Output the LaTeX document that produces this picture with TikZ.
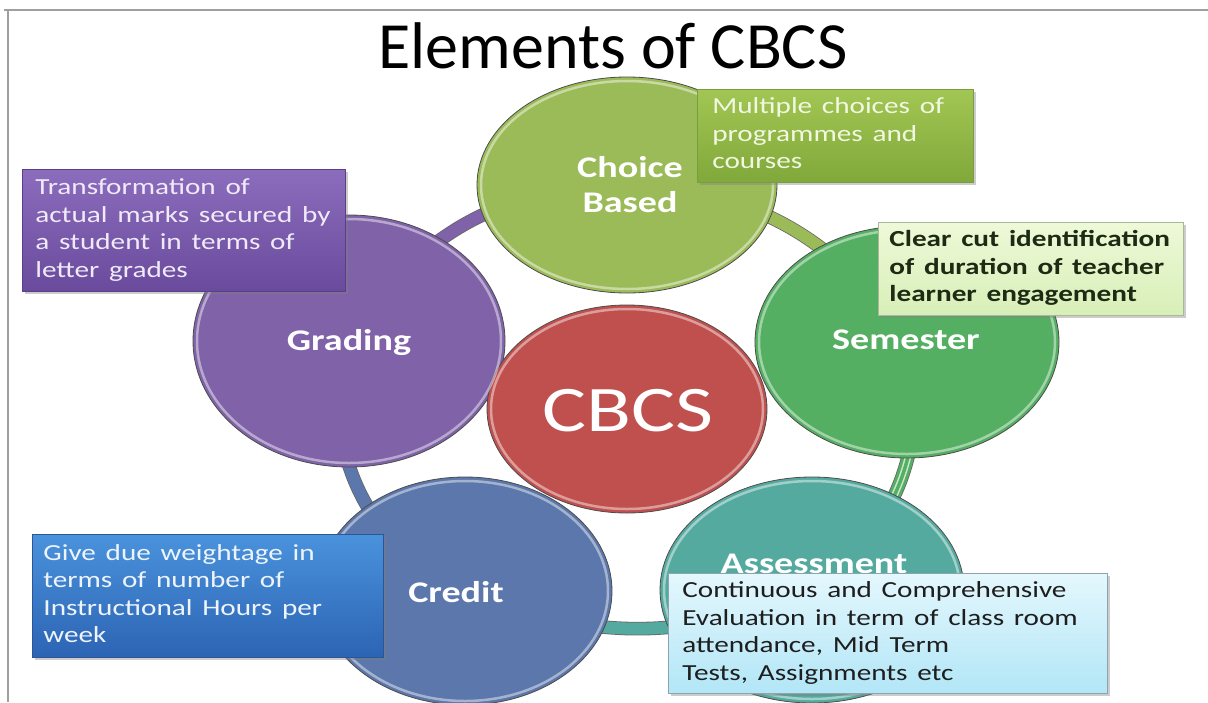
\documentclass[tikz,border=0pt]{standalone}
\usepackage{fontspec}
\usepackage{graphicx}
\setmainfont{Carlito}
\usetikzlibrary{shapes.geometric,shadows}
\definecolor{cbred}{HTML}{C0504D}
\definecolor{cbolive}{HTML}{9BBB59}
\definecolor{cbgreen}{HTML}{55AF63}
\definecolor{cbteal}{HTML}{55AAA0}
\definecolor{cbblue}{HTML}{5B77AB}
\definecolor{cbpurple}{HTML}{7F62A8}
\definecolor{pbtop}{HTML}{8C6CBC}\definecolor{pbbot}{HTML}{6A4A9C}\definecolor{pbdraw}{HTML}{5A3F88}\definecolor{pbtext}{HTML}{F0EAF8}
\definecolor{gbtop}{HTML}{A2C653}\definecolor{gbbot}{HTML}{80A83A}\definecolor{gbdraw}{HTML}{7C9C40}\definecolor{gbtext}{HTML}{F2F7E2}
\definecolor{sbtop}{HTML}{EEF9D8}\definecolor{sbbot}{HTML}{D8EFB8}\definecolor{sbdraw}{HTML}{A8B898}\definecolor{sbtext}{HTML}{1E2A14}
\definecolor{bbtop}{HTML}{4A92DC}\definecolor{bbbot}{HTML}{2C64B4}\definecolor{bbdraw}{HTML}{2A5598}\definecolor{bbtext}{HTML}{EEF4FC}
\definecolor{abtop}{HTML}{E4F7FD}\definecolor{abbot}{HTML}{B2E6F7}\definecolor{abdraw}{HTML}{8EA4AC}\definecolor{abtext}{HTML}{1E1E1E}
\newcommand{\sx}[1]{\scalebox{1.27}[1]{#1}}
\newcommand{\ls}[1]{\begin{tabular}{@{}l@{}}#1\end{tabular}}
\newcommand{\cs}[1]{\begin{tabular}{@{}c@{}}#1\end{tabular}}
\pgfdeclarelayer{paper}
\pgfdeclarelayer{back}
\pgfsetlayers{paper,back,main}
\begin{document}
\begin{tikzpicture}[x=1pt,y=-1pt,
  bub/.style={ellipse, draw=black!70, line width=0.8pt, inner sep=0pt},
  rim/.style={draw=white, opacity=0.45, line width=2.5pt},
  band/.style={draw=black!60, line width=0.8pt, double distance=12pt},
  lbl/.style={text=white, font=\bfseries\fontsize{30}{35}\selectfont, inner sep=0pt, anchor=base},
  infobox/.style={rectangle, anchor=north west, inner ysep=0pt, align=left, line width=0.8pt,
    font=\fontsize{23}{27.5}\selectfont,
    drop shadow={shadow xshift=2.5pt, shadow yshift=-2.5pt, opacity=0.4}},
]
\useasboundingbox (0,0) rectangle (1208,702);
\clip (0,0) rectangle (1208,702);
\begin{pgfonlayer}{paper}
\fill[white] (0,0) rectangle (1208,702);
\draw[gray!75, line width=2pt] (4,10) -- (1208,10);
\draw[gray!75, line width=2pt] (8,10) -- (8,702);
\end{pgfonlayer}

% title
\node[anchor=base, font=\fontsize{66}{70}\selectfont, inner sep=0pt] (title) at (613,68) {Elements of CBCS};

% circles
\node[bub, fill=cbolive, minimum width=300pt, minimum height=216pt] (choice) at (627,185) {};
\node[bub, fill=cbgreen, minimum width=304pt, minimum height=232pt] (sem) at (907,342) {};
\node[bub, fill=cbteal, minimum width=304pt, minimum height=226pt] (assess) at (812,590) {};
\node[bub, fill=cbblue, minimum width=294pt, minimum height=228pt] (credit) at (465,591) {};
\node[bub, fill=cbpurple, minimum width=312pt, minimum height=252pt] (grading) at (349,341) {};
\node[bub, fill=cbred, minimum width=280pt, minimum height=208pt] (cbcs) at (627,409) {};

\draw[rim] (choice.center) ellipse [x radius=146, y radius=104];
\draw[rim] (sem.center) ellipse [x radius=148, y radius=112];
\draw[rim] (assess.center) ellipse [x radius=148, y radius=109];
\draw[rim] (credit.center) ellipse [x radius=143, y radius=110];
\draw[rim] (grading.center) ellipse [x radius=152, y radius=122];
\draw[rim] (cbcs.center) ellipse [x radius=136, y radius=100];

% ring connectors
\begin{pgfonlayer}{back}
\draw[band, double=cbolive] (choice.center) to[bend left=27] (sem.center);
\draw[band, double=cbgreen] (sem.center) to[bend left=34] (assess.center);
\draw[white!70!cbgreen, line width=1.5pt, double=cbgreen, double distance=3.5pt] (sem.center) to[bend left=34] (assess.center);
\draw[band, double=cbteal] (assess.center) to[bend left=22] (credit.center);
\draw[band, double=cbblue] (credit.center) to[bend left=42] (grading.center);
\draw[band, double=cbpurple] (grading.center) to[bend left=29] (choice.center);
\end{pgfonlayer}

% circle labels
\node[lbl] (choiceL) at (630,177) {\sx{Choice}};
\node[lbl] (choiceL2) at (630,212) {\sx{Based}};
\node[lbl] (gradingL) at (349,350) {\sx{Grading}};
\node[lbl] (semL) at (906,349) {\sx{Semester}};
\node[lbl] (creditL) at (456,602) {\sx{Credit}};
\node[lbl] (assessL) at (814,573) {\sx{Assessment}};
\node[anchor=base, text=white, font=\fontsize{65}{70}\selectfont, inner sep=0pt] (cbcsL) at (628,431) {\sx{CBCS}};

% info boxes
\node[infobox, inner xsep=13pt, minimum width=323pt, minimum height=122pt, text width=297pt,
  top color=pbtop, bottom color=pbbot, draw=pbdraw, text=pbtext] (gradingbox) at (22,169)
  {\sx{\ls{Transformation of\\actual marks secured by\\a student in terms of\\letter grades}}};
\node[infobox, inner xsep=15pt, minimum width=276pt, minimum height=93pt, text width=246pt,
  top color=gbtop, bottom color=gbbot, draw=gbdraw, text=gbtext] (choicebox) at (697,89)
  {\sx{\ls{Multiple choices of\\programmes and\\courses}}};
\node[infobox, inner xsep=11pt, minimum width=305pt, minimum height=93pt, text width=283pt,
  top color=sbtop, bottom color=sbbot, draw=sbdraw, text=sbtext, font=\bfseries\fontsize{23}{27.5}\selectfont] (sembox) at (878,222)
  {\sx{\ls{Clear cut identification\\of duration of teacher\\learner engagement}}};
\node[infobox, inner xsep=11pt, minimum width=351pt, minimum height=123pt, text width=329pt,
  top color=bbtop, bottom color=bbbot, draw=bbdraw, text=bbtext] (creditbox) at (32,534)
  {\sx{\ls{Give due weightage in\\terms of number of\\Instructional Hours per\\week}}};
\node[infobox, inner xsep=14pt, minimum width=439pt, minimum height=120pt, text width=411pt,
  top color=abtop, bottom color=abbot, draw=abdraw, text=abtext] (assessbox) at (668,573)
  {\sx{\ls{Continuous and Comprehensive\\Evaluation in term of class room\\attendance, Mid Term\\Tests, Assignments etc}}};
\end{tikzpicture}
\end{document}
